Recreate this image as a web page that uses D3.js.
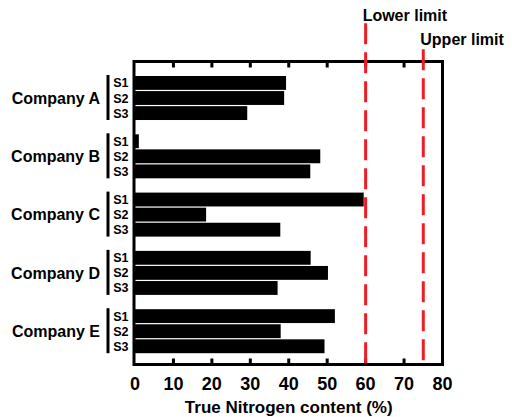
<!DOCTYPE html>
<html><head><meta charset="utf-8">
<script src="https://cdn.jsdelivr.net/npm/d3@7"></script>
<style>
html,body{margin:0;padding:0;background:#fff;}
text{font-family:"Liberation Sans",Arial,sans-serif;font-weight:bold;fill:#000;}
</style></head>
<body>
<svg id="chart" width="512" height="417"></svg>
<script>
const companies = ["Company A","Company B","Company C","Company D","Company E"];
const samples = ["S1","S2","S3"];
const s1Values = [39.3, 1.0, 59.5, 45.7, 52.0];
const s2Values = [38.8, 48.2, 18.5, 50.2, 37.9];
const s3Values = [29.2, 45.6, 37.8, 37.1, 49.3];
const xTickValues = [0,10,20,30,40,50,60,70,80];
const limits = [{name:"Lower limit", value:60}, {name:"Upper limit", value:75}];
const xTitle = "True Nitrogen content (%)";

(function(){
const seriesValues = [s1Values, s2Values, s3Values];
const rows = [];
companies.forEach((c,i)=>samples.forEach((s,j)=>rows.push({company:c, sample:s, value:seriesValues[j][i]})));

const svg = d3.select("#chart");
const pL = 135, pR = 442.5, pT = 61.5, pB = 364.5;
const x = d3.scaleLinear().domain([0,80]).range([pL,pR]);
const y = d3.scaleBand().domain(companies).range([76, 353.2]).paddingInner(0.245).paddingOuter(0);
const ys = d3.scaleBand().domain(samples).range([0, y.bandwidth()]).paddingInner(0.08);

// bars
svg.append("g").selectAll("rect").data(rows).join("rect")
  .attr("x", x(0))
  .attr("y", d=>y(d.company)+ys(d.sample))
  .attr("width", d=>x(d.value)-x(0))
  .attr("height", ys.bandwidth())
  .attr("fill","#000");

// frame
svg.append("rect").attr("x", pL-1).attr("y", pT).attr("width", pR-pL+1).attr("height", pB-pT)
  .attr("fill","none").attr("stroke","#000").attr("stroke-width",3);

// inward ticks top & bottom
const inner = xTickValues.filter(v=>v>0 && v<80);
svg.append("g").selectAll("line").data(inner).join("line")
  .attr("x1", d=>x(d)).attr("x2", d=>x(d)).attr("y1", pT).attr("y2", pT+6)
  .attr("stroke","#000").attr("stroke-width",3);
svg.append("g").selectAll("line").data(inner).join("line")
  .attr("x1", d=>x(d)).attr("x2", d=>x(d)).attr("y1", pB).attr("y2", pB-6)
  .attr("stroke","#000").attr("stroke-width",3);

// tick labels
svg.append("g").selectAll("text").data(xTickValues).join("text")
  .attr("x", d=>x(d)).attr("y", 389.5).attr("text-anchor","middle")
  .style("font-size","18px").text(d=>d);

// axis title
svg.append("text").attr("x",(pL+pR)/2).attr("y",412.5).attr("text-anchor","middle")
  .style("font-size","17px").text(xTitle);

// company labels, brackets, sample labels
const g = svg.append("g");
companies.forEach(c=>{
  const y0 = y(c), h = y.bandwidth();
  g.append("text").attr("x",100).attr("y",y0+h/2).attr("dy","0.36em").attr("text-anchor","end")
    .style("font-size","16px").text(c);
  g.append("line").attr("x1",108).attr("x2",108).attr("y1",y0-1).attr("y2",y0+h)
    .attr("stroke","#000").attr("stroke-width",3);
  samples.forEach(s=>{
    g.append("text").attr("x",128.5).attr("y",y0+ys(s)+ys.bandwidth()/2).attr("dy","0.36em")
      .attr("text-anchor","end").style("font-size","12.5px").text(s);
  });
});

// limit lines
const limTop = [23.3, 49.3];
const labelY = [20.5, 44.8];
limits.forEach((l,i)=>{
  svg.append("line").attr("x1",x(l.value)).attr("x2",x(l.value)).attr("y1",limTop[i]).attr("y2",pB)
    .attr("stroke","#ee1d24").attr("stroke-width",3).attr("stroke-dasharray","21,8");
  svg.append("text").attr("x",x(l.value)-3).attr("y",labelY[i]).style("font-size","16px").text(l.name);
});
})();
</script>
</body></html>
